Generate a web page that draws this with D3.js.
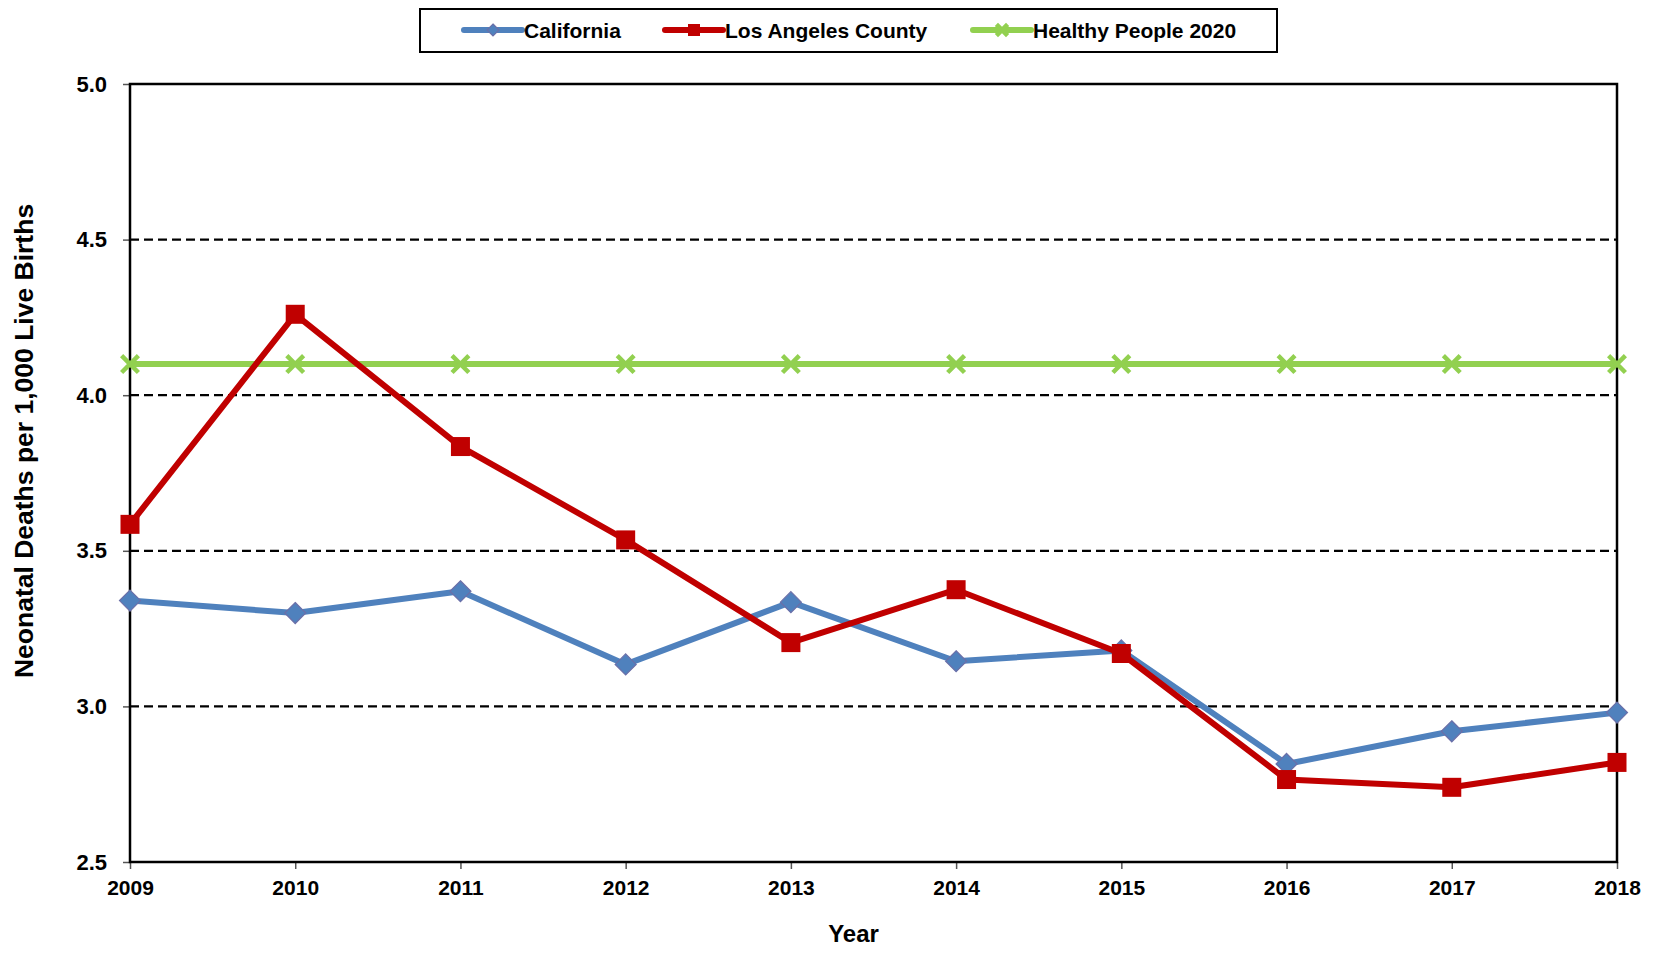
<!DOCTYPE html>
<html>
<head>
<meta charset="utf-8">
<script src="https://cdn.jsdelivr.net/npm/d3@7"></script>
<style>
  body { margin: 0; background: #fff; }
  svg text { font-family: "Liberation Sans", Arial, sans-serif; font-weight: bold; fill: #000; }
</style>
</head>
<body>
<div id="graph"></div>
<script>
// data
const years = [2009, 2010, 2011, 2012, 2013, 2014, 2015, 2016, 2017, 2018]
const california = [3.34, 3.30, 3.37, 3.135, 3.335, 3.145, 3.18, 2.815, 2.92, 2.98]
const losAngeles = [3.585, 4.26, 3.835, 3.535, 3.205, 3.375, 3.17, 2.765, 2.74, 2.82]
const healthyPeople = [4.1, 4.1, 4.1, 4.1, 4.1, 4.1, 4.1, 4.1, 4.1, 4.1]
const yTicks = [2.5, 3.0, 3.5, 4.0, 4.5, 5.0]

const W = 1655, H = 953
const margin = { top: 84, right: 38, bottom: 91, left: 130 },
    w = W - margin.left - margin.right,
    h = H - margin.top - margin.bottom

const svg = d3.select("#graph")
    .append("svg")
    .attr("width", W)
    .attr("height", H)

const g = svg.append("g")
    .attr("transform", `translate(${margin.left},${margin.top})`)

const x = d3.scaleLinear().domain([2009, 2018]).range([0, w])
const y = d3.scaleLinear().domain([2.5, 5]).range([h, 0])

// dashed gridlines
g.selectAll(".grid")
    .data(yTicks.filter(d => d > 2.5 && d < 5))
    .enter()
    .append("line")
    .attr("x1", 0)
    .attr("x2", w)
    .attr("y1", d => y(d))
    .attr("y2", d => y(d))
    .attr("stroke", "#000")
    .attr("stroke-width", 2.3)
    .attr("stroke-dasharray", "9,5")

// axes
const yAxis = d3.axisLeft(y).tickValues(yTicks).tickFormat(d3.format(".1f")).tickSize(7).tickPadding(16)
const xAxis = d3.axisBottom(x).tickValues(years).tickFormat(d3.format("d")).tickSize(7).tickPadding(11)

const gy = g.append("g").call(yAxis)
const gx = g.append("g").attr("transform", `translate(0,${h})`).call(xAxis)
;[gx, gy].forEach(a => {
    a.select(".domain").remove()
    a.selectAll(".tick line").attr("stroke", "#555").attr("stroke-width", 1.5)
    a.selectAll("text").attr("font-family", null)
})
gx.selectAll("text").style("font-size", "21px")
gy.selectAll("text").style("font-size", "22px")

// frame
g.append("rect")
    .attr("width", w)
    .attr("height", h)
    .attr("fill", "none")
    .attr("stroke", "#000")
    .attr("stroke-width", 2.5)

const series = [
    { name: "California", values: california, color: "#4F81BD", marker: "diamond" },
    { name: "Los Angeles County", values: losAngeles, color: "#C00000", marker: "square" },
    { name: "Healthy People 2020", values: healthyPeople, color: "#92D050", marker: "x" }
]

const line = d3.line().x((d, i) => x(years[i])).y(d => y(d))

function drawMarker(sel, type, color, s) {
    if (type === "diamond") {
        sel.append("path")
            .attr("d", `M0,${-s}L${s},0L0,${s}L${-s},0Z`)
            .attr("fill", color)
            .attr("stroke", "#6B6FA8")
            .attr("stroke-width", 1.2)
    } else if (type === "square") {
        sel.append("rect")
            .attr("x", -s).attr("y", -s)
            .attr("width", 2 * s).attr("height", 2 * s)
            .attr("fill", color)
    } else {
        const k = s * 0.8
        sel.append("path")
            .attr("d", `M${-k},${-k}L${k},${k}M${-k},${k}L${k},${-k}`)
            .attr("stroke", color)
            .attr("stroke-width", 4.5)
    }
}

// draw HP first, then CA, then LA on top
;[series[2], series[0], series[1]].forEach(s => {
    g.append("path")
        .datum(s.values)
        .attr("d", line)
        .attr("fill", "none")
        .attr("stroke", s.color)
        .attr("stroke-width", 6)
        .attr("stroke-linejoin", "round")

    g.selectAll(null)
        .data(s.values)
        .enter()
        .append("g")
        .attr("transform", (d, i) => `translate(${x(years[i])},${y(d)})`)
        .each(function () {
            drawMarker(d3.select(this), s.marker, s.color, s.marker === "square" ? 9.5 : 10.5)
        })
})

// legend
const legend = svg.append("g")
legend.append("rect")
    .attr("x", 420).attr("y", 9)
    .attr("width", 857).attr("height", 43)
    .attr("fill", "#fff")
    .attr("stroke", "#000")
    .attr("stroke-width", 2)

const legendX = [464, 665, 973]
series.forEach((s, i) => {
    const lg = legend.append("g").attr("transform", `translate(${legendX[i]},30)`)
    lg.append("line")
        .attr("x1", 0).attr("x2", 58)
        .attr("stroke", s.color)
        .attr("stroke-width", 6)
        .attr("stroke-linecap", "round")
    const m = lg.append("g").attr("transform", "translate(29,0)")
    drawMarker(m, s.marker, s.color, s.marker === "x" ? 7 : 6)
    lg.append("text")
        .attr("x", 60)
        .attr("y", 8)
        .style("font-size", "21px")
        .text(s.name)
})

// axis titles
svg.append("text")
    .attr("x", margin.left + w / 2 - 20)
    .attr("y", 942)
    .attr("text-anchor", "middle")
    .style("font-size", "24px")
    .text("Year")

svg.append("text")
    .attr("transform", "translate(33,441) rotate(-90)")
    .attr("text-anchor", "middle")
    .style("font-size", "26.5px")
    .text("Neonatal Deaths per 1,000 Live Births")
</script>
</body>
</html>
